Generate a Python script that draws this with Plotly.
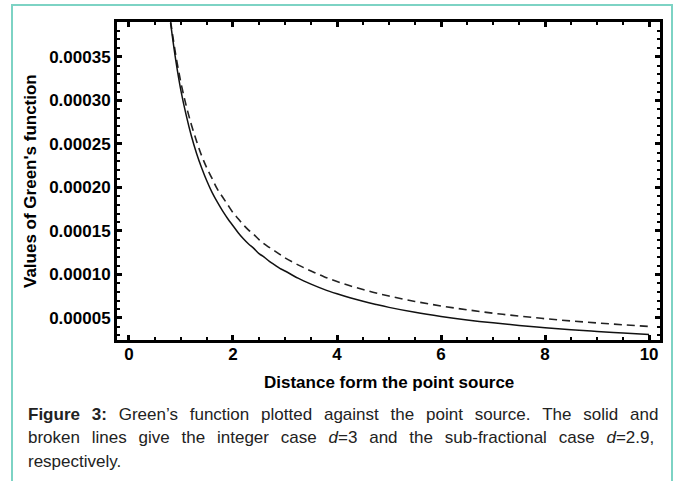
import plotly.graph_objects as go

# Values
x_solid = [0.8, 0.9, 1.0, 1.1, 1.2, 1.3, 1.4, 1.5, 1.6, 1.7, 1.8, 1.9, 2.0, 2.1, 2.2, 2.3,
           2.4, 2.5, 2.6, 2.7, 2.8, 2.9, 3.0, 3.25, 3.5, 3.75, 4.0, 4.25, 4.5, 4.75, 5.0,
           5.5, 6.0, 6.5, 7.0, 7.5, 8.0, 8.5, 9.0, 9.5, 10.0]
y_solid = [0.000389, 0.000346, 0.000311, 0.000283, 0.000259, 0.000239, 0.000222, 0.000207,
           0.000194, 0.000183, 0.000173, 0.000164, 0.000156, 0.000148, 0.000141, 0.000135,
           0.000130, 0.000124, 0.000120, 0.000115, 0.000111, 0.000107, 0.000104, 0.0000957,
           0.0000889, 0.0000829, 0.0000778, 0.0000732, 0.0000691, 0.0000655, 0.0000622,
           0.0000565, 0.0000518, 0.0000478, 0.0000444, 0.0000415, 0.0000389, 0.0000366,
           0.0000346, 0.0000327, 0.0000311]

x_dashed = [0.8, 0.9, 1.0, 1.1, 1.2, 1.3, 1.4, 1.5, 1.6, 1.7, 1.8, 1.9, 2.0, 2.1, 2.2, 2.3,
            2.4, 2.5, 2.6, 2.7, 2.8, 2.9, 3.0, 3.25, 3.5, 3.75, 4.0, 4.25, 4.5, 4.75, 5.0,
            5.5, 6.0, 6.5, 7.0, 7.5, 8.0, 8.5, 9.0, 9.5, 10.0]
y_dashed = [0.000391, 0.000352, 0.000320, 0.000294, 0.000272, 0.000253, 0.000236, 0.000222,
            0.000210, 0.000198, 0.000189, 0.000180, 0.000171, 0.000164, 0.000157, 0.000151,
            0.000146, 0.000140, 0.000135, 0.000131, 0.000127, 0.000123, 0.000119, 0.000111,
            0.000104, 0.0000974, 0.0000919, 0.0000870, 0.0000827, 0.0000787, 0.0000752,
            0.0000690, 0.0000638, 0.0000594, 0.0000555, 0.0000522, 0.0000492, 0.0000466,
            0.0000443, 0.0000422, 0.0000403]

x_ticks = [0, 2, 4, 6, 8, 10]
y_ticks = [0.00005, 0.00010, 0.00015, 0.00020, 0.00025, 0.00030, 0.00035]

x_title = "Distance form the point source"
y_title = "Values of Green's function"
caption_words = [
    ["<b>Figure", "3:</b>", "Green\u2019s", "function", "plotted", "against", "the", "point",
     "source.", "The", "solid", "and"],
    ["broken", "lines", "give", "the", "integer", "case", "<i>d</i>=3", "and", "the",
     "sub-fractional", "case", "<i>d</i>=2.9,"],
    ["respectively."],
]

# plot-area geometry in pixels
W, H = 677, 481
L, R, T, B = 117, 660, 22, 340
PW, PH = R - L, B - T


def px(xp):
    return (xp - L) / PW


def py(yp):
    return (B - yp) / PH


fig = go.Figure()
fig.add_trace(go.Scatter(x=x_dashed, y=y_dashed, mode="lines", line_shape="spline",
                         line=dict(color="#222222", width=1.6, dash="8px,5px"),
                         showlegend=False))
fig.add_trace(go.Scatter(x=x_solid, y=y_solid, mode="lines", line_shape="spline",
                         line=dict(color="#111111", width=1.5),
                         showlegend=False))

tickfont = dict(family="Liberation Sans", size=17, color="black", weight="bold")

fig.update_xaxes(range=[-0.23, 10.21], tickvals=x_ticks, showgrid=False, zeroline=False,
                 showline=True, linecolor="black", linewidth=3, mirror="ticks",
                 ticks="inside", ticklen=5, tickwidth=2.5, tickcolor="black",
                 minor=dict(dtick=0.5, tick0=0, ticks="inside", ticklen=3, tickwidth=2,
                            tickcolor="black", showgrid=False),
                 tickfont=tickfont, ticklabelstandoff=-3)
fig.update_yaxes(range=[0.0000247, 0.00039], tickvals=y_ticks, tickformat=".5f",
                 showgrid=False, zeroline=False,
                 showline=True, linecolor="black", linewidth=3, mirror="ticks",
                 ticks="inside", ticklen=5, tickwidth=2.5, tickcolor="black",
                 minor=dict(dtick=0.00001, tick0=0, ticks="inside", ticklen=3, tickwidth=2,
                            tickcolor="black", showgrid=False),
                 tickfont=tickfont)

annotations = [
    dict(text=x_title, x=px((L + R) / 2), y=py(382), xref="paper", yref="paper",
         showarrow=False, xanchor="center", yanchor="middle",
         font=dict(family="Liberation Sans", size=17, color="black", weight="bold")),
    dict(text=y_title, x=px(30), y=py((T + B) / 2), xref="paper", yref="paper",
         showarrow=False, xanchor="center", yanchor="middle", textangle=-90,
         font=dict(family="Liberation Sans", size=17, color="black", weight="bold")),
]
gap = " \u2004\u200a"
for words, ymid in zip(caption_words, [414, 437.5, 461]):
    sep = gap if len(words) > 1 else " "
    annotations.append(dict(text=sep.join(words), x=px(26), y=py(ymid), xref="paper",
                            yref="paper", showarrow=False, xanchor="left", yanchor="middle",
                            font=dict(family="Liberation Sans", size=17, color="#222222")))

fig.update_layout(
    width=W, height=H, autosize=False,
    margin=dict(l=L, r=W - R, t=T, b=H - B),
    paper_bgcolor="white", plot_bgcolor="white",
    annotations=annotations,
    shapes=[dict(type="path", xref="paper", yref="paper",
                 path=f"M {px(12)},{py(520)} L {px(12)},{py(5)} L {px(672)},{py(5)} L {px(672)},{py(520)}",
                 line=dict(color="#7dd3c4", width=2))],
)

fig.write_html("out.html")
